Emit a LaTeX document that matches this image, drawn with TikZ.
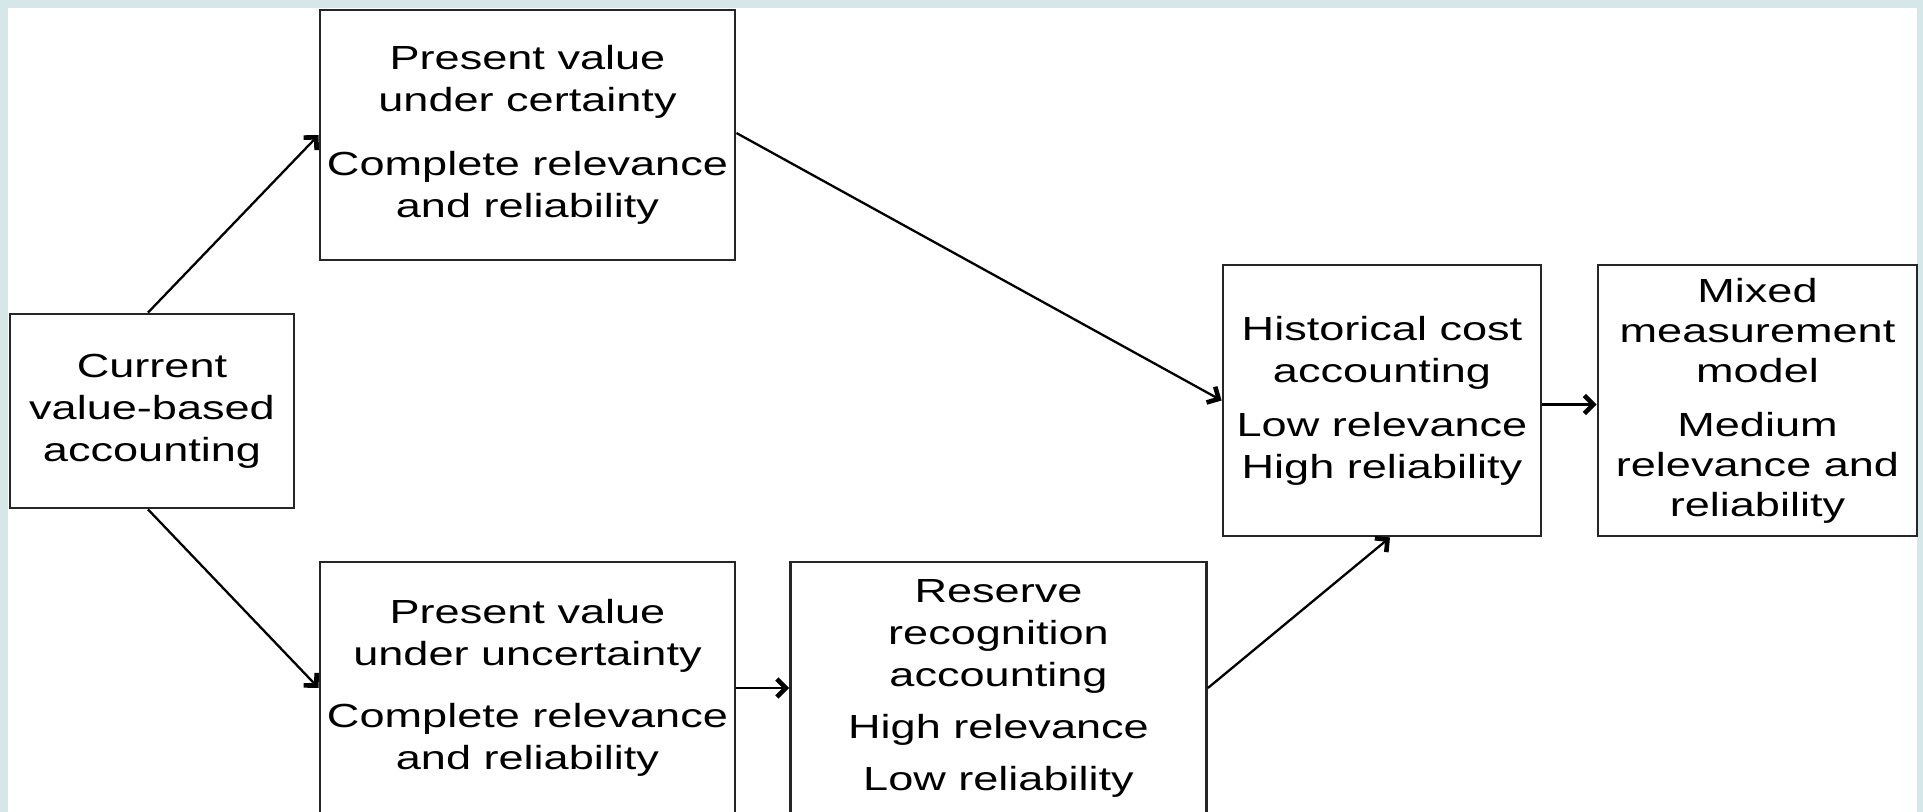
\documentclass[tikz,border=0pt]{standalone}
\usepackage{fontspec}
\newfontfamily\boxfont[FakeStretch=1.35]{Liberation Sans}
\usetikzlibrary{arrows.meta}
\definecolor{bgblue}{HTML}{D6E7EA}
\tikzset{
  box/.style={draw=black!85, line width=1.4pt, inner sep=0pt, align=center,
    font=\boxfont\fontsize{16.7pt}{21pt}\selectfont},
  conn/.style={line width=1.15pt, -{Straight Barb[length=4.5pt,width=9pt,line width=2.3pt]}}
}
\begin{document}
\begin{tikzpicture}[x=0.5pt,y=-0.5pt]
\useasboundingbox (0,0) rectangle (1923,812);
\fill[bgblue] (0,0) rectangle (1923,812);
\fill[white] (8,8) rectangle (1917,812);
\begin{scope}
\clip (0,0) rectangle (1923,812);
\node[box, minimum width=142pt, minimum height=97pt] (C) at (152,411)
  {Current\\value-based\\accounting};
\node[box, minimum width=207.5pt, minimum height=125pt] (A) at (527.5,135)
  {Present value\\under certainty\\[11pt]Complete relevance\\and reliability};
\node[box, minimum width=207.5pt, minimum height=126pt] (B) at (527.5,688)
  {Present value\\under uncertainty\\[10pt]Complete relevance\\and reliability};
\node[box, minimum width=208pt, minimum height=126pt] (R) at (998.5,688)
  {Reserve\\recognition\\accounting\\[5pt]High relevance\\[5pt]Low reliability};
\node[box, minimum width=159pt, minimum height=135.5pt] (H) at (1382,400.5)
  {Historical cost\\accounting\\[6pt]Low relevance\\High reliability};
\node[box, minimum width=159.5pt, minimum height=135.5pt,
  font=\boxfont\fontsize{16.7pt}{20pt}\selectfont] (M) at (1757.5,400.5)
  {Mixed\\measurement\\model\\[7pt]Medium\\relevance and\\reliability};
\end{scope}
\draw[conn] ([xshift=-2pt]C.north) -- (A.west);
\draw[conn] ([xshift=-2pt]C.south) -- (B.west);
\draw[conn] ([yshift=1pt]A.east) -- (H.west);
\draw[conn] (B.east) -- (R.west);
\draw[conn] (R.east) -- ([xshift=4pt]H.south);
\draw[conn] ([yshift=-2pt]H.east) -- ([yshift=-2pt]M.west);
\end{tikzpicture}
\end{document}
